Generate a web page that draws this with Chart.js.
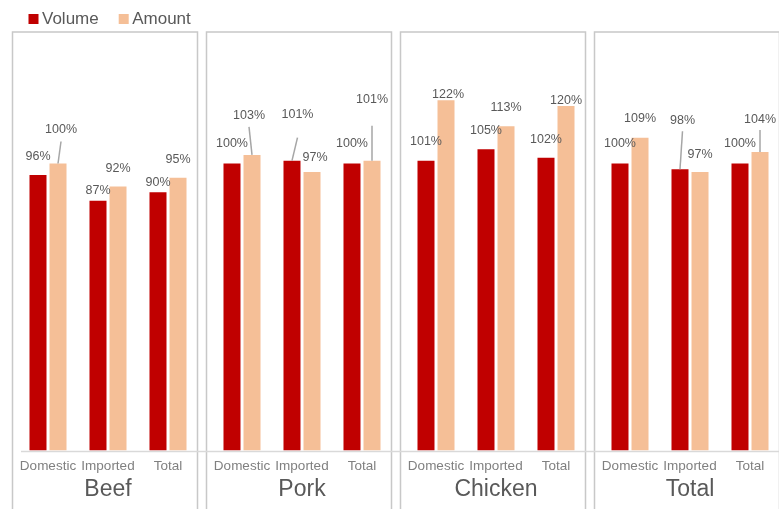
<!DOCTYPE html>
<html>
<head>
<meta charset="utf-8">
<script src="https://cdn.jsdelivr.net/npm/chart.js@4.4.1/dist/chart.umd.min.js"></script>
<style>
  html, body { margin: 0; padding: 0; background: #fff; overflow: hidden; }
  #wrap { position: relative; width: 779px; height: 509px; overflow: hidden; }
  #wrap canvas { position: absolute; top: 0; }
</style>
</head>
<body>
<div id="wrap">
  <canvas id="c0" width="194" height="509" style="left:11px"></canvas>
  <canvas id="c1" width="194" height="509" style="left:205px"></canvas>
  <canvas id="c2" width="194" height="509" style="left:399px"></canvas>
  <canvas id="c3" width="194" height="509" style="left:593px"></canvas>
</div>
<script>
// Data
const groups = ['Beef', 'Pork', 'Chicken', 'Total'];
const categories = ['Domestic', 'Imported', 'Total'];
const seriesNames = ['Volume', 'Amount'];

const beefVolume = [96, 87, 90];
const beefAmount = [100, 92, 95];
const porkVolume = [100, 101, 100];
const porkAmount = [103, 97, 101];
const chickenVolume = [101, 105, 102];
const chickenAmount = [122, 113, 120];
const totalVolume = [100, 98, 100];
const totalAmount = [109, 97, 104];

const volumes = [beefVolume, porkVolume, chickenVolume, totalVolume];
const amounts = [beefAmount, porkAmount, chickenAmount, totalAmount];

// Styles
const colors = ['#C00000', '#F5BF97'];
const FONT = '"Liberation Sans", Arial, sans-serif';

// Label placement: [dx, dy from bar top, leader start below label (0 = none)]
const labelPos = [
  [[[0, -18, 0], [0, -10, 0], [0, -10, 0]], [[3, -34, 12], [0, -18, 0], [0, -18, 0]]],
  [[[0, -19.5, 0], [5.5, -46, 23], [0, -19.5, 0]], [[-3, -39, 11], [3, -15, 0], [0, -61, 26]]],
  [[[0, -19, 0], [0, -19, 0], [0, -18, 0]], [[2, -6, 0], [0, -19, 0], [0, -6, 0]]],
  [[[0, -19.5, 0], [2.5, -49, 11], [0, -19.5, 0]], [[0, -19, 0], [0, -18, 0], [0, -32, 10]]]
];

function makeChart(i) {
    // Panel frame and axis line
    const panelPlugin = {
        id: 'panel' + i,
        beforeDatasetsDraw(chart) {
            const ctx = chart.ctx;
            ctx.save();
            ctx.strokeStyle = '#c8c8c8';
            ctx.lineWidth = 1.5;
            ctx.beginPath();
            ctx.moveTo(1.5, chart.height);
            ctx.lineTo(1.5, 32);
            ctx.lineTo(186.5, 32);
            ctx.lineTo(186.5, chart.height);
            ctx.stroke();

            const y0 = chart.scales.y.getPixelForValue(0) + 1;
            ctx.strokeStyle = '#d9d9d9';
            ctx.lineWidth = 1.7;
            ctx.beginPath();
            ctx.moveTo(i === 0 ? chart.chartArea.left + 3 : 0, y0);
            ctx.lineTo(chart.width, y0);
            ctx.stroke();
            ctx.restore();
        }
    };

    // Value labels with leader lines
    const labelPlugin = {
        id: 'labels' + i,
        afterDatasetsDraw(chart) {
            const ctx = chart.ctx;
            ctx.save();
            ctx.font = '12.5px ' + FONT;
            ctx.textAlign = 'center';
            ctx.textBaseline = 'middle';
            chart.data.datasets.forEach((ds, d) => {
                chart.getDatasetMeta(d).data.forEach((bar, k) => {
                    const [dx, dy, lead] = labelPos[i][d][k];
                    const x = bar.x + dx;
                    const y = bar.y + dy;
                    if (lead) {
                        ctx.strokeStyle = '#a6a6a6';
                        ctx.lineWidth = 1.5;
                        ctx.beginPath();
                        ctx.moveTo(x, y + lead);
                        ctx.lineTo(bar.x, bar.y);
                        ctx.stroke();
                    }
                    ctx.fillStyle = '#595959';
                    ctx.fillText(ds.data[k] + '%', x, y);
                });
            });
            ctx.restore();
        }
    };

    // Legend, drawn only on the first panel
    const legendPlugin = {
        id: 'legend' + i,
        afterDraw(chart) {
            if (i !== 0) return;
            const ctx = chart.ctx;
            ctx.save();
            ctx.font = '17px ' + FONT;
            ctx.textBaseline = 'middle';
            let x = 17.5;
            chart.data.datasets.forEach(ds => {
                ctx.fillStyle = ds.backgroundColor;
                ctx.fillRect(x, 14, 10, 10);
                ctx.fillStyle = '#595959';
                ctx.fillText(ds.label, x + 13.5, 19.5);
                x += 13.5 + ctx.measureText(ds.label).width + 20;
            });
            ctx.restore();
        }
    };

    return new Chart(document.getElementById('c' + i), {
        type: 'bar',
        data: {
            labels: categories,
            datasets: [
                { label: seriesNames[0], data: volumes[i], backgroundColor: colors[0] },
                { label: seriesNames[1], data: amounts[i], backgroundColor: colors[1] }
            ]
        },
        options: {
            responsive: false,
            animation: false,
            events: [],
            categoryPercentage: 0.667,
            barPercentage: 0.85,
            layout: { padding: { top: 48.7, bottom: 4.5, left: 7, right: 7 } },
            plugins: {
                legend: { display: false },
                tooltip: { enabled: false }
            },
            scales: {
                x: {
                    afterFit(scale) { scale.height = 54; },
                    grid: { display: false, drawTicks: false },
                    border: { display: false },
                    ticks: {
                        color: '#808080',
                        font: { family: FONT, size: 13.5 },
                        padding: 7.2,
                        maxRotation: 0,
                        autoSkip: false
                    },
                    title: {
                        display: true,
                        text: groups[i],
                        color: '#595959',
                        font: { family: FONT, size: 23 },
                        padding: { top: 0, bottom: 1.5 }
                    }
                },
                y: { display: false, min: 0, max: 140 }
            }
        },
        plugins: [panelPlugin, labelPlugin, legendPlugin]
    });
}

groups.forEach((g, i) => makeChart(i));
</script>
</body>
</html>
